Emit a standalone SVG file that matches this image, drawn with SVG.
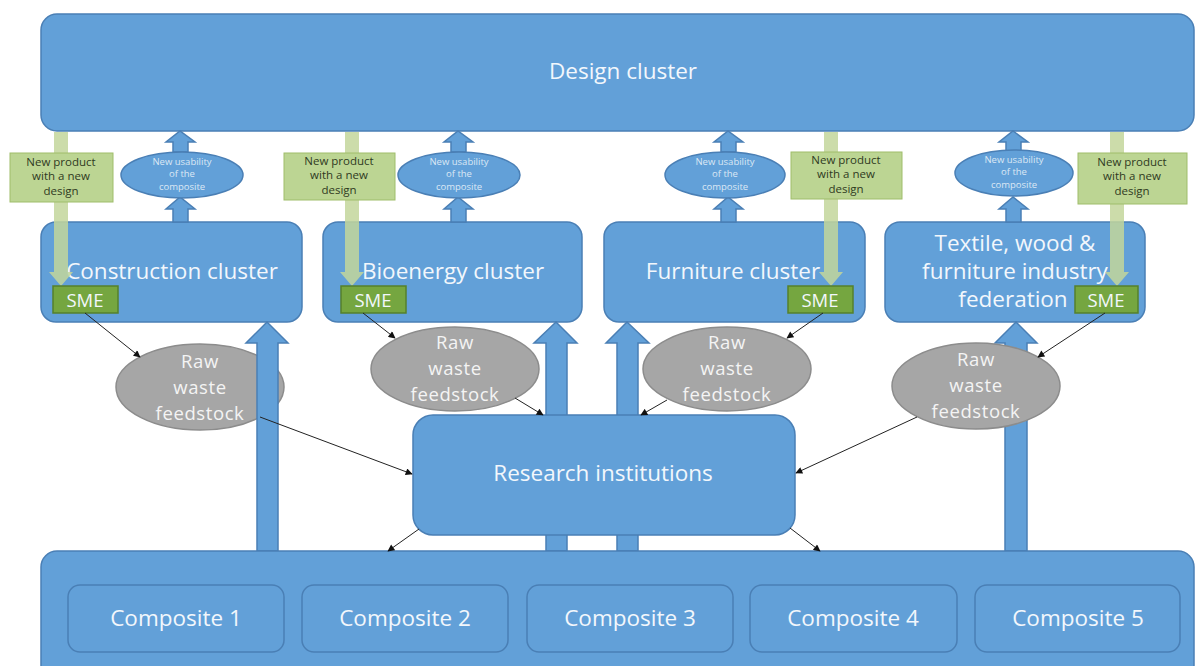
<svg xmlns="http://www.w3.org/2000/svg" width="1195" height="666" viewBox="0 0 1195 666">
<defs>
<marker id="ah" viewBox="0 0 10 10" refX="9" refY="5" markerWidth="8" markerHeight="7" markerUnits="userSpaceOnUse" orient="auto">
<path d="M0,0 L10,5 L0,10 z" fill="#111"/>
</marker>
<style>
.blue{fill:#62a0d8;stroke:#4a7fb5;stroke-width:1.5}
.gray{fill:#a6a6a6;stroke:#8c8c8c;stroke-width:1.5}
.lbl{fill:#bcd593;stroke:#9fbd6b;stroke-width:1}
.gbar{fill:#c3d69b;opacity:0.85}
.sme{fill:#75a640;stroke:#55802b;stroke-width:1.5}
.t{font-family:"Open Sans",Lato,sans-serif;fill:#f2f7fc;text-anchor:middle}
.big{font-size:22.5px}
.raw{font-size:18.5px;letter-spacing:0.6px;fill:#f4f4f4}
.small{font-size:9.5px;fill:#dce8f5}
.dark{font-family:"Open Sans",Lato,sans-serif;font-size:11.5px;fill:#2f3a22;text-anchor:middle}
.conn{stroke:#222;stroke-width:1;fill:none;marker-end:url(#ah)}
</style>
</defs>
<rect width="1195" height="666" fill="#fff"/>

<g id="design-cluster">
<rect class="blue" x="41" y="14" width="1153" height="117" rx="16"/>
<text class="t big" x="623" y="79">Design cluster</text>
</g>

<g id="construction-cluster">
<rect class="blue" x="41" y="222" width="261" height="100" rx="15"/>
<text class="t big" x="172" y="279">Construction cluster</text>
</g>
<g id="bioenergy-cluster">
<rect class="blue" x="323" y="222" width="259" height="100" rx="15"/>
<text class="t big" x="453" y="279">Bioenergy cluster</text>
</g>
<g id="furniture-cluster">
<rect class="blue" x="604" y="222" width="261" height="100" rx="15"/>
<text class="t big" x="733" y="279">Furniture cluster</text>
</g>
<g id="textile-federation">
<rect class="blue" x="885" y="222" width="260" height="100" rx="15"/>
<text class="t big" x="1015" y="251">Textile, wood &amp;</text>
<text class="t big" x="1015" y="279">furniture industry</text>
<text class="t big" x="1013" y="307">federation</text>
</g>

<g id="raw-waste-1">
<ellipse class="gray" cx="200" cy="387" rx="84" ry="43"/>
<text class="t raw" x="200" y="368">Raw</text>
<text class="t raw" x="200" y="394">waste</text>
<text class="t raw" x="200" y="420">feedstock</text>
</g>

<g id="upward-flows">
<polygon class="blue" points="257,551 257,343 246,343 267,322 288,343 278,343 278,551"/>
<polygon class="blue" points="546,551 546,343 534,343 556,322 577,343 567,343 567,551"/>
<polygon class="blue" points="617,551 617,343 606,343 627,322 649,343 638,343 638,551"/>
<polygon class="blue" points="1005,551 1005,343 995,343 1016,322 1037,343 1027,343 1027,551"/>
<polygon class="blue" points="173,222 173,209 166,209 180,197 195,209 188,209 188,222"/>
<polygon class="blue" points="173,152 173,142 166,142 180,131 195,142 188,142 188,152"/>
<polygon class="blue" points="451,222 451,209 444,209 458,197 473,209 466,209 466,222"/>
<polygon class="blue" points="451,152 451,142 444,142 458,131 473,142 466,142 466,152"/>
<polygon class="blue" points="721,222 721,209 714,209 728,197 743,209 736,209 736,222"/>
<polygon class="blue" points="721,152 721,142 714,142 728,131 743,142 736,142 736,152"/>
<polygon class="blue" points="1006,222 1006,209 999,209 1013,197 1028,209 1021,209 1021,222"/>
<polygon class="blue" points="1006,152 1006,142 999,142 1013,131 1028,142 1021,142 1021,152"/>
</g>

<g id="raw-waste-2">
<ellipse class="gray" cx="455" cy="369" rx="84" ry="42"/>
<text class="t raw" x="455" y="349">Raw</text>
<text class="t raw" x="455" y="375">waste</text>
<text class="t raw" x="455" y="401">feedstock</text>
</g>
<g id="raw-waste-3">
<ellipse class="gray" cx="727" cy="369" rx="84" ry="42"/>
<text class="t raw" x="727" y="349">Raw</text>
<text class="t raw" x="727" y="375">waste</text>
<text class="t raw" x="727" y="401">feedstock</text>
</g>
<g id="raw-waste-4">
<ellipse class="gray" cx="976" cy="386" rx="84" ry="43"/>
<text class="t raw" x="976" y="366">Raw</text>
<text class="t raw" x="976" y="392">waste</text>
<text class="t raw" x="976" y="418">feedstock</text>
</g>

<g id="research-institutions">
<rect class="blue" x="413" y="415" width="382" height="120" rx="20"/>
<text class="t big" x="603" y="481">Research institutions</text>
</g>

<g id="composites">
<rect class="blue" x="41" y="551" width="1153" height="130" rx="16"/>
<rect class="blue" x="68" y="585" width="216" height="67" rx="12"/>
<text class="t big" x="176" y="626">Composite 1</text>
<rect class="blue" x="302" y="585" width="206" height="67" rx="12"/>
<text class="t big" x="405" y="626">Composite 2</text>
<rect class="blue" x="527" y="585" width="206" height="67" rx="12"/>
<text class="t big" x="630" y="626">Composite 3</text>
<rect class="blue" x="750" y="585" width="207" height="67" rx="12"/>
<text class="t big" x="853" y="626">Composite 4</text>
<rect class="blue" x="975" y="585" width="205" height="67" rx="12"/>
<text class="t big" x="1078" y="626">Composite 5</text>
</g>

<g id="usability-1">
<ellipse class="blue" cx="182" cy="175" rx="61" ry="23"/>
<text class="t small" x="182" y="165">New usability</text>
<text class="t small" x="182" y="177">of the</text>
<text class="t small" x="182" y="190">composite</text>
</g>
<g id="usability-2">
<ellipse class="blue" cx="459" cy="175" rx="61" ry="23"/>
<text class="t small" x="459" y="165">New usability</text>
<text class="t small" x="459" y="177">of the</text>
<text class="t small" x="459" y="190">composite</text>
</g>
<g id="usability-3">
<ellipse class="blue" cx="725" cy="175" rx="60" ry="23"/>
<text class="t small" x="725" y="165">New usability</text>
<text class="t small" x="725" y="177">of the</text>
<text class="t small" x="725" y="190">composite</text>
</g>
<g id="usability-4">
<ellipse class="blue" cx="1014" cy="173" rx="59" ry="23"/>
<text class="t small" x="1014" y="163">New usability</text>
<text class="t small" x="1014" y="175">of the</text>
<text class="t small" x="1014" y="188">composite</text>
</g>

<g id="design-flows">
<polygon class="gbar" points="54,132 54,272 49,272 61,286 73,272 68,272 68,132"/>
<polygon class="gbar" points="345,132 345,272 340,272 352,286 364,272 359,272 359,132"/>
<polygon class="gbar" points="824,132 824,272 819,272 831,286 843,272 838,272 838,132"/>
<polygon class="gbar" points="1110,132 1110,272 1105,272 1117,286 1129,272 1124,272 1124,132"/>
</g>

<g id="new-product-1">
<rect class="lbl" x="10" y="153" width="103" height="49"/>
<text class="dark" x="61" y="166">New product</text>
<text class="dark" x="61" y="180">with a new</text>
<text class="dark" x="61" y="195">design</text>
</g>
<g id="new-product-2">
<rect class="lbl" x="284" y="153" width="111" height="47"/>
<text class="dark" x="339" y="165">New product</text>
<text class="dark" x="339" y="179">with a new</text>
<text class="dark" x="339" y="194">design</text>
</g>
<g id="new-product-3">
<rect class="lbl" x="791" y="152" width="111" height="47"/>
<text class="dark" x="846" y="164">New product</text>
<text class="dark" x="846" y="178">with a new</text>
<text class="dark" x="846" y="193">design</text>
</g>
<g id="new-product-4">
<rect class="lbl" x="1078" y="153" width="109" height="51"/>
<text class="dark" x="1132" y="166">New product</text>
<text class="dark" x="1132" y="180">with a new</text>
<text class="dark" x="1132" y="195">design</text>
</g>

<g id="sme-1">
<rect class="sme" x="53" y="286" width="65" height="27"/>
<text class="t" x="85" y="306.5" font-size="18.5">SME</text>
</g>
<g id="sme-2">
<rect class="sme" x="341" y="286" width="65" height="27"/>
<text class="t" x="373" y="306.5" font-size="18.5">SME</text>
</g>
<g id="sme-3">
<rect class="sme" x="788" y="286" width="65" height="27"/>
<text class="t" x="820" y="306.5" font-size="18.5">SME</text>
</g>
<g id="sme-4">
<rect class="sme" x="1075" y="286" width="63" height="27"/>
<text class="t" x="1106" y="306.5" font-size="18.5">SME</text>
</g>

<g id="connectors">
<line class="conn" x1="85" y1="313" x2="140" y2="357"/>
<line class="conn" x1="260" y1="417" x2="412" y2="474"/>
<line class="conn" x1="363" y1="313" x2="395" y2="338"/>
<line class="conn" x1="515" y1="398" x2="543" y2="415"/>
<line class="conn" x1="823" y1="313" x2="787" y2="338"/>
<line class="conn" x1="667" y1="400" x2="641" y2="415"/>
<line class="conn" x1="1105" y1="313" x2="1038" y2="357"/>
<line class="conn" x1="917" y1="417" x2="796" y2="473"/>
<line class="conn" x1="419" y1="529" x2="388" y2="551"/>
<line class="conn" x1="790" y1="528" x2="820" y2="551"/>
</g>
</svg>
